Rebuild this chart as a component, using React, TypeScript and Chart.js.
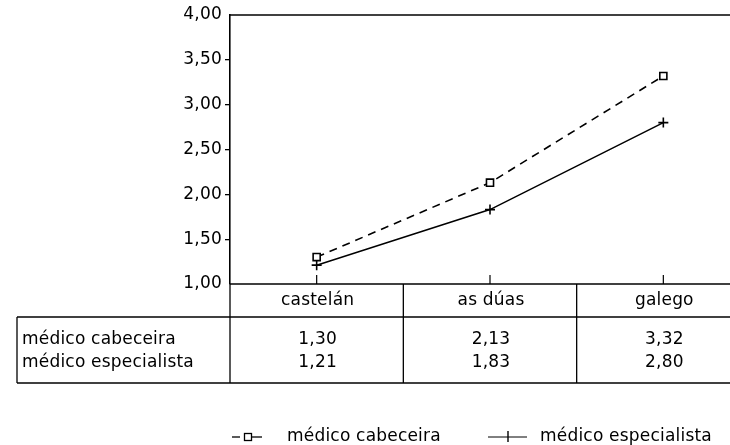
import React, { useEffect, useRef } from 'react';
import { Chart, registerables } from 'chart.js';

Chart.register(...registerables);

const categories = ['castelán', 'as dúas', 'galego'];
const cabeceira = [1.3, 2.13, 3.32];
const especialista = [1.21, 1.83, 2.8];
const seriesNames = ['médico cabeceira', 'médico especialista'];
const yMin = 1;
const yMax = 4;
const yStep = 0.5;

const fmt = (v: number) => Number(v).toFixed(2).replace('.', ',');
const FAMILY = '"DejaVu Sans", "Liberation Sans", Arial, sans-serif';
const FSIZE = 17;
const FONT = `${FSIZE}px ${FAMILY}`;
const LS = '0.2px';

const setLS = (chart: any) => {
  try {
    (chart.ctx as any).letterSpacing = LS;
  } catch (e) {}
};

const framePlugin = {
  id: 'frameTable',
  beforeUpdate: setLS,
  beforeLayout: setLS,
  beforeDraw: setLS,
  beforeDatasetsDraw: setLS,
  afterDraw(chart: any) {
    const ctx = chart.ctx as CanvasRenderingContext2D;
    const { left, top, bottom } = chart.chartArea;
    const W = chart.width;
    const xs = chart.scales.x;
    ctx.save();
    (ctx as any).letterSpacing = LS;
    ctx.strokeStyle = '#000';
    ctx.lineWidth = 1.5;
    ctx.setLineDash([]);
    const line = (x1: number, y1: number, x2: number, y2: number) => {
      ctx.beginPath();
      ctx.moveTo(x1, y1);
      ctx.lineTo(x2, y2);
      ctx.stroke();
    };
    // frame
    line(left, top, W, top);
    line(left, bottom, W, bottom);

    const centers = categories.map((_, i) => xs.getPixelForValue(i));
    const half = (centers[1] - centers[0]) / 2;
    const headerBottom = bottom + 33;
    const rowY = [headerBottom + 23, headerBottom + 46];
    const tableBottom = headerBottom + 66;
    const tableLeft = 17;

    ctx.lineWidth = 1.2;
    centers.forEach((c) => line(c, bottom - 9, c, bottom));
    ctx.lineWidth = 1.3;
    centers.forEach((c) => line(c - half, bottom, c - half, tableBottom));
    line(tableLeft, headerBottom, W, headerBottom);
    line(tableLeft, tableBottom, W, tableBottom);
    line(tableLeft, headerBottom, tableLeft, tableBottom);

    ctx.fillStyle = '#000';
    ctx.font = FONT;
    ctx.textBaseline = 'middle';
    ctx.textAlign = 'center';
    categories.forEach((c, i) => ctx.fillText(c, centers[i] + 1, bottom + 17));
    [cabeceira, especialista].forEach((arr, r) => {
      arr.forEach((v, i) => ctx.fillText(fmt(v), centers[i] + 1, rowY[r]));
    });
    ctx.textAlign = 'left';
    seriesNames.forEach((n, r) => ctx.fillText(n, tableLeft + 5, rowY[r]));

    // legend
    const ly = 437;
    ctx.lineWidth = 1.3;
    line(232, ly, 240, ly);
    line(252, ly, 262, ly);
    ctx.fillStyle = '#fff';
    ctx.fillRect(244.5, ly - 3.5, 7, 7);
    ctx.strokeRect(244.5, ly - 3.5, 7, 7);
    ctx.fillStyle = '#000';
    ctx.fillText(seriesNames[0], 287, ly);

    ctx.lineWidth = 1;
    line(488, ly, 527, ly);
    ctx.lineWidth = 1.4;
    line(508, ly - 6, 508, ly + 5);
    ctx.fillText(seriesNames[1], 540, ly);

    ctx.restore();
  },
};

export default function App() {
  const ref = useRef<HTMLCanvasElement | null>(null);

  useEffect(() => {
    if (!ref.current) return;
    const chart = new Chart(ref.current, {
      type: 'line',
      data: {
        labels: categories,
        datasets: [
          {
            label: seriesNames[0],
            data: cabeceira,
            borderColor: '#000',
            borderWidth: 1.6,
            borderDash: [8, 6],
            pointStyle: 'rect',
            pointRadius: 5,
            pointBorderWidth: 1.6,
            pointBackgroundColor: '#fff',
            pointBorderColor: '#000',
            tension: 0,
          },
          {
            label: seriesNames[1],
            data: especialista,
            borderColor: '#000',
            borderWidth: 1.5,
            pointStyle: 'cross',
            pointRadius: 5,
            pointBorderWidth: 1.6,
            pointBackgroundColor: '#000',
            pointBorderColor: '#000',
            tension: 0,
          },
        ],
      },
      options: {
        animation: false,
        responsive: false,
        devicePixelRatio: 1,
        layout: { padding: { top: 15, right: 10, bottom: 161, left: 0 } },
        plugins: {
          legend: { display: false },
          tooltip: { enabled: false },
        },
        scales: {
          x: {
            type: 'category',
            offset: true,
            display: false,
          },
          y: {
            min: yMin,
            max: yMax,
            ticks: {
              stepSize: yStep,
              color: '#000',
              padding: 3,
              font: { size: FSIZE, family: FAMILY },
              callback: (v: any) => fmt(Number(v)),
            },
            grid: {
              drawOnChartArea: false,
              tickLength: 5,
              lineWidth: 1.3,
              color: (c: any) =>
                c.tick && (c.tick.value === yMin || c.tick.value === yMax)
                  ? 'rgba(0,0,0,0)'
                  : '#000',
            },
            border: { display: true, color: '#000', width: 1.6 },
            afterFit: (s: any) => {
              s.width = 230;
            },
          },
        },
      } as any,
      plugins: [framePlugin],
    });
    return () => chart.destroy();
  }, []);

  return (
    <div
      style={{
        position: 'fixed',
        left: 0,
        top: 0,
        width: 730,
        height: 445,
        overflow: 'hidden',
        background: '#fff',
      }}
    >
      <canvas ref={ref} width={760} height={445} style={{ width: 760, height: 445, display: 'block' }} />
    </div>
  );
}
